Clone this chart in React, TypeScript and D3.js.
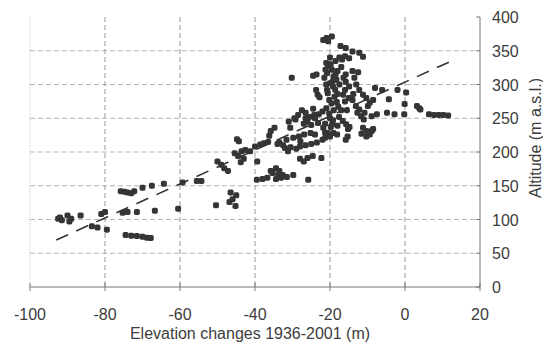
import React from 'react';
import * as d3 from 'd3';

// points: [elevation change (m), altitude (m a.s.l.)]
const lowGroup: [number, number][] = [
  [-92.5, 101], [-91.5, 99], [-92, 103], [-90, 106], [-89.5, 97], [-89, 101], [-86.5, 106],
  [-83.5, 90], [-82, 88], [-79.5, 85], [-81, 108], [-80, 111],
  [-75.8, 142], [-74.8, 141], [-74, 140], [-73, 139], [-72.2, 142], [-70, 147], [-67.5, 150],
  [-64.3, 153], [-59.3, 155],
  [-75.3, 110], [-74, 111], [-71.5, 111], [-66.7, 113],
  [-74.5, 77], [-73, 76], [-71.5, 75.5], [-70, 74.5], [-68.8, 73], [-67.8, 72.5],
  [-60.5, 116],
];

const midGroup: [number, number][] = [
  [-55.5, 157], [-54.3, 157], [-50.4, 121], [-50, 186], [-49, 181], [-48.2, 176], [-47.2, 172],
  [-46.5, 140], [-46, 130], [-45.2, 120], [-46.8, 126], [-45, 136],
  [-44.8, 219], [-44.3, 216], [-45.4, 198], [-44.5, 194], [-43.6, 201], [-42.6, 203], [-41.3, 201],
  [-40, 208], [-38.6, 211], [-37.6, 213], [-43.8, 185], [-39.4, 186], [-43, 190],
  [-39.5, 159], [-38, 160], [-36.7, 162], [-35.3, 169], [-34.4, 176], [-33.5, 172], [-32.6, 166],
  [-29.8, 166], [-34.4, 160], [-33, 162], [-31.5, 163], [-35.8, 172],
  [-35.8, 231], [-34.8, 236], [-36.2, 224], [-33.5, 214], [-31.6, 218], [-29.8, 221], [-28.3, 223],
  [-26.9, 226], [-25.2, 228], [-27.9, 216], [-32.5, 210], [-30.5, 207], [-29, 205], [-31.2, 201],
  [-30.6, 236], [-29.2, 248], [-30.2, 310], [-25.8, 159], [-26, 191], [-24.6, 194], [-27, 186],
  [-22.3, 191], [-28, 208], [-26.5, 210], [-25, 212], [-23.5, 214], [-22, 218], [-24, 226],
  [-31, 245], [-29.5, 250], [-27, 242], [-26.5, 250], [-24.2, 255],
  [-34, 212], [-32, 206], [-36.5, 215], [-33.8, 166], [-28, 190],
];

const highGroup: [number, number][] = [
  [-24.5, 313], [-23.6, 315], [-23.3, 285], [-22.8, 281], [-23.7, 292],
  [-21.8, 366], [-20.9, 369], [-19.5, 371], [-20.5, 364],
  [-17.2, 357], [-15.8, 354], [-14, 349], [-12.2, 347], [-11.2, 341],
  [-20.5, 327], [-19.5, 322], [-20.8, 317], [-19, 312], [-18.3, 307], [-20, 302], [-19.2, 297],
  [-18.6, 292], [-20.6, 287], [-18.8, 282], [-20.2, 277], [-19.6, 272], [-17.8, 267], [-19, 262],
  [-20.2, 257], [-17.6, 252], [-19.2, 247], [-21.3, 242], [-19.8, 237], [-20.6, 228],
  [-21, 332], [-18.5, 335], [-17.5, 340], [-16, 342], [-19.8, 330], [-18, 320], [-21.5, 310],
  [-21, 300], [-17.5, 300], [-18.5, 315], [-20, 340], [-21.2, 322], [-19.3, 305], [-20.8, 292],
  [-18, 286], [-21, 265], [-18.2, 274], [-20, 250],
  [-16.8, 337], [-14.9, 339], [-15.8, 315], [-14, 320], [-13.5, 310], [-14.9, 297], [-15.8, 304],
  [-13, 300], [-12.5, 318], [-17, 326], [-16.4, 310],
  [-21.8, 236], [-21.3, 229], [-19.4, 241], [-18, 239], [-16.6, 246], [-15.7, 241], [-15.2, 234],
  [-14.8, 237], [-21.3, 221], [-20, 223], [-19.1, 228], [-18.1, 226], [-15.3, 223], [-15.8, 218],
  [-27.5, 262], [-26.5, 258], [-25.5, 252], [-24, 250], [-23, 256], [-22, 260], [-24.5, 264],
  [-26, 245], [-28.5, 255], [-23.2, 243], [-25, 240],
  [-12.2, 292], [-11.2, 285], [-10.3, 280],
  [-14, 277], [-13.1, 268], [-12.2, 263], [-11.7, 253], [-10.8, 258], [-9.9, 268], [-9.4, 273],
  [-8.5, 277], [-7.5, 256], [-8.9, 253], [-12.7, 258], [-11, 248],
  [-11.2, 236], [-10.3, 231], [-9.4, 226], [-10.3, 223], [-8.9, 231], [-8.5, 234], [-11.6, 227],
  [-8, 295], [-6.1, 292], [-4.8, 258], [-4.3, 278], [-2, 292], [0.3, 288], [-0.1, 271],
  [-0.2, 256], [3.2, 268], [4.1, 263], [6.4, 256], [7.7, 255], [9, 255], [10.2, 255], [11.5, 254],
  [-2.8, 256], [3.8, 265],
  [-16.5, 285], [-15, 280], [-16, 275], [-17, 262], [-15.5, 262], [-13.8, 286], [-16, 292],
];

// dashed trend line ends
const trendX = [-93, 12];
const trendY = [69.6, 333.8];

const xTicks = [-100, -80, -60, -40, -20, 0, 20];
const yTicks = [0, 50, 100, 150, 200, 250, 300, 350, 400];

const W = 543;
const H = 342;
const font = "'Liberation Sans', Arial, sans-serif";

const x = d3.scaleLinear().domain([-100, 20]).range([30, 480]);
const y = d3.scaleLinear().domain([0, 400]).range([287, 17]);

export default function App() {
  const points = [...lowGroup, ...midGroup, ...highGroup];
  const trend = d3.line<number>()
    .x((d) => x(d))
    .y((_, i) => y(trendY[i]));

  return (
    <svg width={W} height={H} style={{ position: 'absolute', left: 0, top: 0, background: '#fff' }}>
      {/* grid */}
      {yTicks.filter((t) => t > 0 && t < 400).map((t) => (
        <line key={'gy' + t} x1={x(-100)} x2={x(20)} y1={y(t)} y2={y(t)}
          stroke="#b4b4b4" strokeWidth={1} strokeDasharray="5,3" />
      ))}
      {xTicks.filter((t) => t > -100 && t < 20).map((t) => (
        <line key={'gx' + t} x1={x(t)} x2={x(t)} y1={y(400)} y2={y(0)}
          stroke="#999" strokeWidth={1} strokeDasharray="5,3" />
      ))}
      <line x1={x(-100)} x2={x(-100)} y1={y(400)} y2={y(0)} stroke="#ccc" strokeWidth={1} strokeDasharray="1,1" />

      {/* axes */}
      <line x1={x(-100)} x2={x(20)} y1={y(0)} y2={y(0)} stroke="#777" strokeWidth={1} />
      <line x1={x(20)} x2={x(20)} y1={y(400)} y2={y(0)} stroke="#777" strokeWidth={1} />
      {xTicks.map((t) => (
        <line key={'tx' + t} x1={x(t)} x2={x(t)} y1={y(0) - 4} y2={y(0) + 4} stroke="#777" />
      ))}
      {yTicks.map((t) => (
        <line key={'ty' + t} x1={x(20) - 4} x2={x(20)} y1={y(t)} y2={y(t)} stroke="#777" />
      ))}

      {/* points */}
      {points.map(([px, py], i) => (
        <rect key={i} x={x(px) - 3} y={y(py) - 3} width={6} height={6} rx={1.8}
          fill="#353535" />
      ))}

      {/* trend */}
      <path d={trend(trendX) ?? ''} fill="none" stroke="#333" strokeWidth={1.6} strokeDasharray="13,9" />

      {/* labels */}
      {xTicks.map((t) => (
        <text key={'lx' + t} x={x(t)} y={319.5} textAnchor="middle" fontFamily={font}
          fontSize={16} fill="#3c3c3c">{t}</text>
      ))}
      {yTicks.map((t) => (
        <text key={'ly' + t} x={492} y={y(t) + 6} fontFamily={font} fontSize={16} fill="#3c3c3c">{t}</text>
      ))}
      <text x={250} y={338.5} textAnchor="middle" fontFamily={font} fontSize={16} fill="#3c3c3c">
        Elevation changes 1936-2001  (m)
      </text>
      <text transform={`translate(541, 138) rotate(-90)`} textAnchor="middle" fontFamily={font}
        fontSize={16} fill="#3c3c3c">Altitude (m a.s.l.)</text>
    </svg>
  );
}
